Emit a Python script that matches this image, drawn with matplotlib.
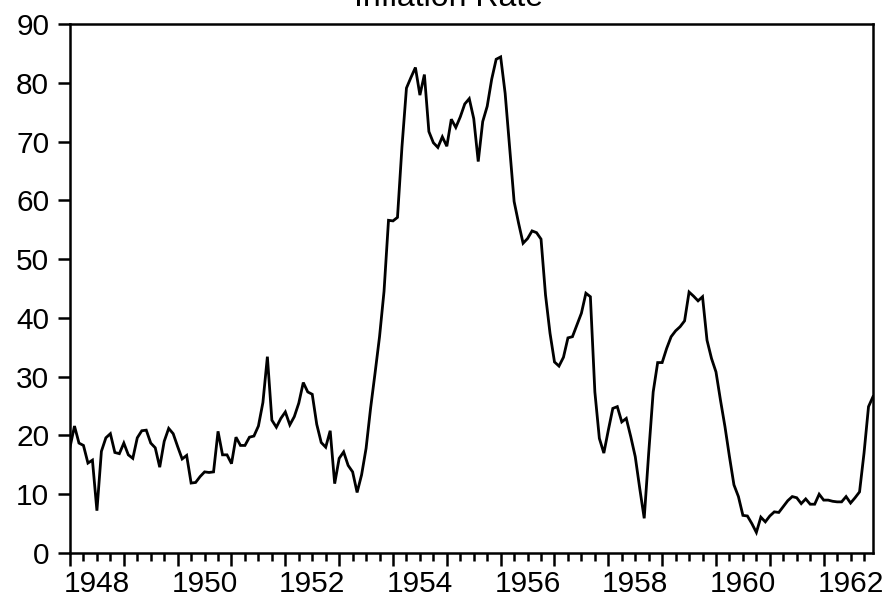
import numpy as np
from matplotlib import pyplot as plt
from matplotlib.ticker import FixedLocator

plt.rcParams["font.family"] = ["Liberation Sans", "DejaVu Sans"]

title = "Inflation Rate"
start_year = 1948
label_years = [1948, 1950, 1952, 1954, 1956, 1958, 1960, 1962]
y_ticks = [0, 10, 20, 30, 40, 50, 60, 70, 80, 90]

# monthly inflation rate, 1948M01 - 1962M12
inflation = [
    18.0, 21.6, 18.7, 18.3, 15.3, 15.8, 7.2, 17.3, 19.6, 20.3, 17.1, 16.9,
    18.7, 16.7, 16.1, 19.6, 20.8, 20.9, 18.7, 17.9, 14.6, 19.0, 21.2, 20.3,
    18.1, 16.0, 16.6, 11.9, 12.0, 13.0, 13.8, 13.7, 13.8, 20.7, 16.7, 16.7,
    15.2, 19.7, 18.3, 18.3, 19.7, 19.9, 21.6, 25.6, 33.4, 22.6, 21.4, 22.9,
    24.0, 21.8, 23.2, 25.5, 29.0, 27.4, 27.0, 21.9, 18.8, 18.0, 20.8, 11.8,
    16.1, 17.2, 14.9, 13.8, 10.3, 13.3, 17.8, 24.6, 30.6, 36.8, 44.5, 56.6,
    56.5, 57.1, 69.1, 79.1, 80.9, 82.6, 77.9, 81.4, 71.7, 69.8, 69.0, 70.8,
    69.2, 73.8, 72.4, 74.2, 76.4, 77.3, 73.9, 66.6, 73.4, 76.0, 80.6, 84.0,
    84.4, 78.2, 69.1, 59.8, 56.1, 52.7, 53.5, 54.8, 54.5, 53.4, 43.9, 37.4,
    32.5, 31.8, 33.3, 36.6, 36.8, 38.8, 40.8, 44.2, 43.6, 27.4, 19.5, 17.0,
    20.9, 24.6, 24.9, 22.3, 22.9, 19.8, 16.4, 11.0, 5.9, 17.0, 27.4, 32.4,
    32.4, 34.8, 36.8, 37.8, 38.5, 39.5, 44.4, 43.7, 42.9, 43.6, 36.2, 33.1,
    30.8, 26.0, 21.5, 16.4, 11.6, 9.6, 6.4, 6.3, 5.0, 3.5, 6.1, 5.3,
    6.3, 7.0, 6.9, 7.9, 8.9, 9.6, 9.4, 8.4, 9.2, 8.3, 8.3, 10.0,
    9.0, 9.0, 8.8, 8.7, 8.7, 9.6, 8.5, 9.4, 10.4, 17.0, 24.9, 26.6,
]

months = np.arange(len(inflation))

fig = plt.figure(figsize=(8.93, 6.04), dpi=100)
axis = fig.add_axes([70 / 893, 1 - 553 / 604, 803 / 893, 529 / 604])

axis.plot(months, inflation, color="black", linewidth=2.0, solid_joinstyle="miter")

axis.set_xlim(0, len(inflation) - 1)
axis.set_ylim(0, 90)

for spine in axis.spines.values():
    spine.set_linewidth(1.8)
    spine.set_color("black")

# y axis
axis.set_yticks(y_ticks)
axis.tick_params(axis="y", direction="out", length=9, width=1.8,
                 pad=6, labelsize=21.5, right=False)

# x axis: year boundaries major, quarters minor, labels centred in the year
axis.xaxis.set_major_locator(FixedLocator(np.arange(0, len(inflation), 12)))
axis.xaxis.set_minor_locator(FixedLocator(np.arange(0, len(inflation), 3)))
axis.tick_params(axis="x", which="major", direction="out", length=9,
                 width=1.8, labelbottom=False, top=False)
axis.tick_params(axis="x", which="minor", direction="out", length=5.5,
                 width=1.8, top=False)

for year in label_years:
    axis.annotate(
        str(year),
        xy=((year - start_year) * 12 + 6, 0),
        xycoords=("data", "axes fraction"),
        xytext=(0, -12),
        textcoords="offset points",
        ha="center",
        va="top",
        fontsize=21.5,
    )

fig.text(448.5 / 893, 1 - 6 / 604, title, ha="center", va="baseline",
         fontsize=23)

fig.savefig("out.png", dpi=100)
